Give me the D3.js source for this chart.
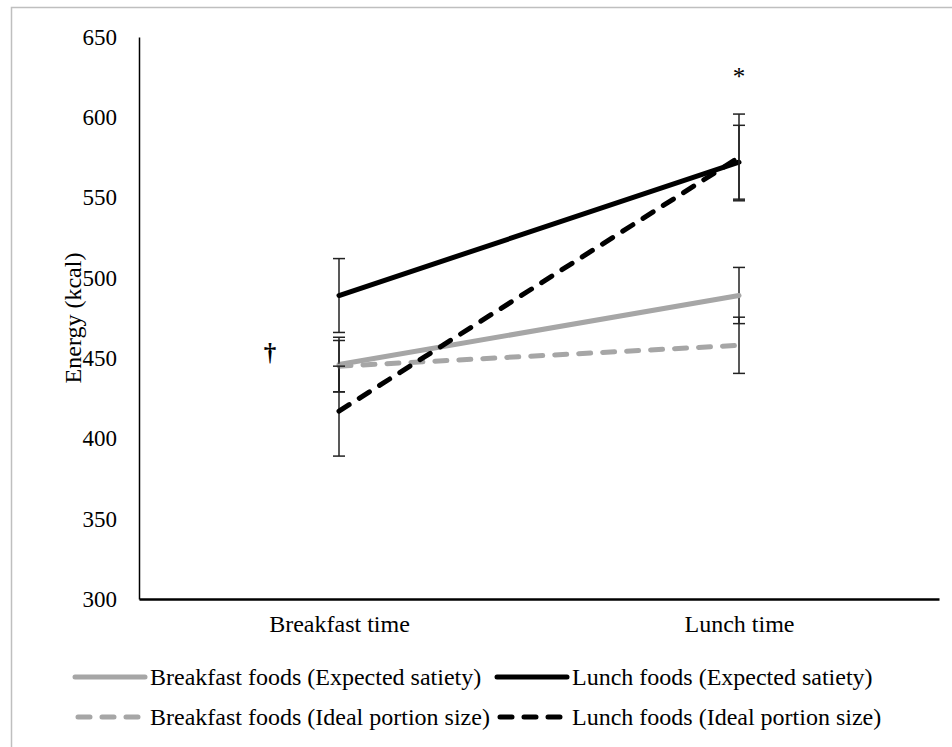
<!DOCTYPE html>
<html>
<head>
<meta charset="utf-8">
<script src="https://cdn.jsdelivr.net/npm/d3@7"></script>
<style>
  body { margin: 0; background: #fff; }
  text { font-family: "Liberation Serif", "Times New Roman", serif; fill: #000; }
</style>
</head>
<body>
<div id="chart"></div>
<script>
// Data.
const timepoints = ['Breakfast time', 'Lunch time'];
const seriesNames = [
  'Breakfast foods (Expected satiety)',
  'Lunch foods (Expected satiety)',
  'Breakfast foods (Ideal portion size)',
  'Lunch foods (Ideal portion size)'
];
const breakfastES = [446, 489];
const lunchES = [489, 572];
const breakfastIPS = [445, 458];
const lunchIPS = [417, 575];
const breakfastESErr = [17, 17.5];
const lunchESErr = [23, 23];
const breakfastIPSErr = [16, 17.5];
const lunchIPSErr = [28, 27];
const yTicks = [300, 350, 400, 450, 500, 550, 600, 650];
const annotations = [
  { label: '\u2020', time: 'Breakfast time', value: 448, dx: -69, weight: 'bold' },
  { label: '*', time: 'Lunch time', value: 620, dx: 0, weight: 'normal' }
];

const attrs = {
  width: 952,
  height: 747,
  marginLeft: 139,
  marginRight: 13,
  marginTop: 37,
  marginBottom: 148,
  gray: '#a6a6a6',
  black: '#000',
  font: '"Liberation Serif", "Times New Roman", serif'
};

const series = [
  { name: seriesNames[0], values: breakfastES, errs: breakfastESErr, color: attrs.gray, dash: null },
  { name: seriesNames[1], values: lunchES, errs: lunchESErr, color: attrs.black, dash: null },
  { name: seriesNames[2], values: breakfastIPS, errs: breakfastIPSErr, color: attrs.gray, dash: '12 12' },
  { name: seriesNames[3], values: lunchIPS, errs: lunchIPSErr, color: attrs.black, dash: '12 12' }
];

const chartWidth = attrs.width - attrs.marginLeft - attrs.marginRight;
const chartHeight = attrs.height - attrs.marginTop - attrs.marginBottom;

const svg = d3.select('#chart').append('svg')
  .attr('width', attrs.width)
  .attr('height', attrs.height);

// Outer frame (only top and left edges fall inside the picture).
svg.append('rect')
  .attr('x', 11.5)
  .attr('y', 7.5)
  .attr('width', attrs.width + 10)
  .attr('height', attrs.height + 10)
  .attr('fill', 'none')
  .attr('stroke', '#bfbfbf')
  .attr('stroke-width', 1.5);

const chart = svg.append('g')
  .attr('transform', 'translate(' + attrs.marginLeft + ',' + attrs.marginTop + ')');

// Scales.
const xScale = d3.scalePoint()
  .domain(timepoints)
  .range([0, chartWidth])
  .padding(0.5);

const yScale = d3.scaleLinear()
  .domain([300, 650])
  .range([chartHeight, 0]);

// Y axis.
const yAxis = d3.axisLeft(yScale)
  .tickValues(yTicks)
  .tickSize(0)
  .tickPadding(22);

const yAxisG = chart.append('g').call(yAxis);
yAxisG.select('.domain').attr('stroke', '#000').attr('stroke-width', 1.5);
yAxisG.selectAll('text')
  .attr('font-size', 23)
  .attr('font-family', attrs.font);

// X axis.
const xAxis = d3.axisBottom(xScale)
  .tickSize(0)
  .tickPadding(16);

const xAxisG = chart.append('g')
  .attr('transform', 'translate(0,' + chartHeight + ')')
  .call(xAxis);
xAxisG.select('.domain').attr('stroke', '#000').attr('stroke-width', 2.5);
xAxisG.selectAll('text')
  .attr('font-size', 24)
  .attr('font-family', attrs.font);

// Y axis title.
chart.append('text')
  .attr('transform', 'translate(' + (73 - attrs.marginLeft) + ',' + (318 - attrs.marginTop) + ') rotate(-90)')
  .attr('text-anchor', 'middle')
  .attr('dominant-baseline', 'central')
  .attr('font-size', 24)
  .text('Energy (kcal)');

// Lines and error bars.
const line = d3.line()
  .x((d, i) => xScale(timepoints[i]))
  .y(d => yScale(d));

series.forEach(s => {
  const g = chart.append('g');

  s.values.forEach((v, i) => {
    const x = xScale(timepoints[i]);
    const y0 = yScale(v - s.errs[i]);
    const y1 = yScale(v + s.errs[i]);
    g.append('line')
      .attr('x1', x).attr('x2', x)
      .attr('y1', y0).attr('y2', y1)
      .attr('stroke', '#222')
      .attr('stroke-width', 1.5);
    [y0, y1].forEach(yy => {
      g.append('line')
        .attr('x1', x - 6).attr('x2', x + 6)
        .attr('y1', yy).attr('y2', yy)
        .attr('stroke', '#222')
        .attr('stroke-width', 1.5);
    });
  });

  g.append('path')
    .datum(s.values)
    .attr('d', line)
    .attr('fill', 'none')
    .attr('stroke', s.color)
    .attr('stroke-width', 5)
    .attr('stroke-linecap', 'round')
    .attr('stroke-dasharray', s.dash);
});

// Significance markers.
chart.selectAll('.annot')
  .data(annotations)
  .enter().append('text')
  .attr('class', 'annot')
  .attr('x', d => xScale(d.time) + d.dx)
  .attr('y', d => yScale(d.value))
  .attr('text-anchor', 'middle')
  .attr('font-size', 25)
  .attr('font-weight', d => d.weight)
  .text(d => d.label);

// Legend.
const legendPos = [
  { x: 75, y: 677 },
  { x: 497, y: 677 },
  { x: 75, y: 717 },
  { x: 497, y: 717 }
];

const legend = svg.append('g');
series.forEach((s, i) => {
  const p = legendPos[i];
  const lineStart = s.dash ? p.x + 3 : p.x;
  legend.append('line')
    .attr('x1', lineStart).attr('x2', p.x + 70)
    .attr('y1', p.y).attr('y2', p.y)
    .attr('stroke', s.color)
    .attr('stroke-width', 5)
    .attr('stroke-linecap', 'round')
    .attr('stroke-dasharray', s.dash);
  legend.append('text')
    .attr('x', p.x + 75)
    .attr('y', p.y)
    .attr('dominant-baseline', 'central')
    .attr('font-size', 24)
    .text(s.name);
});
</script>
</body>
</html>
